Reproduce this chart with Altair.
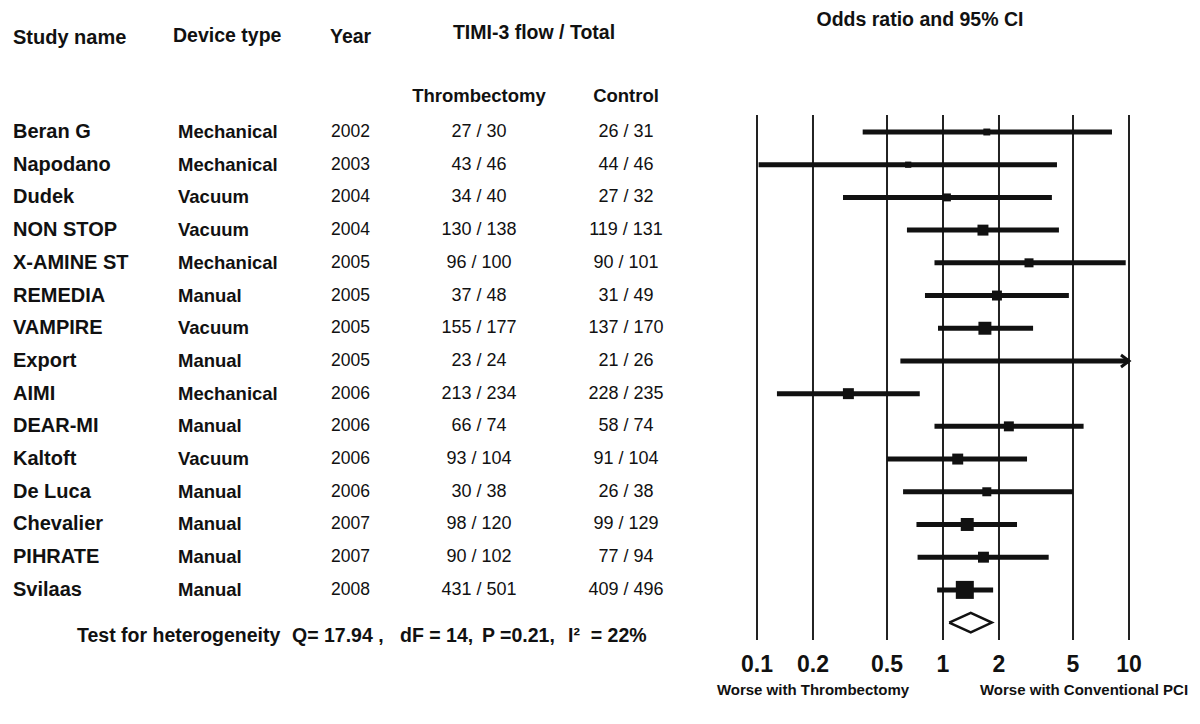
import altair as alt
import pandas as pd

# ---- data ----
studies = ["Beran G", "Napodano", "Dudek", "NON STOP", "X-AMINE ST", "REMEDIA", "VAMPIRE",
           "Export", "AIMI", "DEAR-MI", "Kaltoft", "De Luca", "Chevalier", "PIHRATE", "Svilaas"]
devices = ["Mechanical", "Mechanical", "Vacuum", "Vacuum", "Mechanical", "Manual", "Vacuum",
           "Manual", "Mechanical", "Manual", "Vacuum", "Manual", "Manual", "Manual", "Manual"]
years = [2002, 2003, 2004, 2004, 2005, 2005, 2005, 2005, 2006, 2006, 2006, 2006, 2007, 2007, 2008]
thromb_events = [27, 43, 34, 130, 96, 37, 155, 23, 213, 66, 93, 30, 98, 90, 431]
thromb_total = [30, 46, 40, 138, 100, 48, 177, 24, 234, 74, 104, 38, 120, 102, 501]
control_events = [26, 44, 27, 119, 90, 31, 137, 21, 228, 58, 91, 26, 99, 77, 409]
control_total = [31, 46, 32, 131, 101, 49, 170, 26, 235, 74, 104, 38, 129, 94, 496]
odds_ratio = [1.72, 0.65, 1.05, 1.64, 2.9, 1.95, 1.68, 5.5, 0.31, 2.26, 1.2, 1.72, 1.35, 1.65, 1.31]
ci_low = [0.37, 0.102, 0.29, 0.64, 0.9, 0.8, 0.94, 0.59, 0.128, 0.9, 0.5, 0.61, 0.72, 0.73, 0.93]
ci_high = [8.1, 4.1, 3.85, 4.2, 9.6, 4.75, 3.05, 50.0, 0.75, 5.7, 2.83, 5.0, 2.5, 3.7, 1.86]
weights = [1.6, 1.3, 2.1, 4.0, 2.7, 3.3, 5.6, 0.3, 4.0, 3.3, 4.0, 2.7, 5.6, 4.0, 10.8]

pooled_or = 1.41
pooled_low = 1.08
pooled_high = 1.83

axis_ticks = [0.1, 0.2, 0.5, 1, 2, 5, 10]
axis_labels = ["0.1", "0.2", "0.5", "1", "2", "5", "10"]

het_parts = ["Test for heterogeneity", "Q= 17.94 ,", "dF = 14,", "P =0.21,", "I\u00b2\u00a0 = 22%"]

FONT = "Liberation Sans, Arial, sans-serif"
INK = "#111111"

rows = list(range(len(studies)))
df = pd.DataFrame({
    "row": rows,
    "study": studies,
    "device": devices,
    "year": [str(y) for y in years],
    "thromb": [f"{e} / {t}" for e, t in zip(thromb_events, thromb_total)],
    "control": [f"{e} / {t}" for e, t in zip(control_events, control_total)],
    "or": odds_ratio,
    "lo": ci_low,
    "hi": ci_high,
    "w": weights,
})
pool_row = len(studies)
diamond = pd.DataFrame({
    "x": [pooled_low, pooled_or, pooled_high, pooled_or, pooled_low],
    "y": [pool_row, pool_row - 0.3, pool_row, pool_row + 0.3, pool_row],
    "o": [0, 1, 2, 3, 4],
})
ticks = pd.DataFrame({"t": axis_ticks, "lab": axis_labels})

xs = alt.Scale(type="log", domain=[0.1, 10], range=[749, 1121], clamp=False)
ys = alt.Scale(domain=[0, pool_row], range=[124, 614.6], nice=False, zero=False)

X = lambda f: alt.X(f, type="quantitative", scale=xs, axis=None)
Y = lambda f: alt.Y(f, type="quantitative", scale=ys, axis=None)

base = alt.Chart(df)

# vertical reference lines
vlines = alt.Chart(ticks).mark_rule(color="#222222", strokeWidth=2).encode(
    x=X("t"), y=alt.value(107), y2=alt.value(632))

# CI lines (clipped at the axis end)
ci = base.transform_calculate(hic="min(datum.hi, 10)").mark_rule(
    color=INK, strokeWidth=5).encode(x=X("lo"), x2="hic:Q", y=Y("row"))

arrow = base.transform_filter("datum.hi > 10").transform_calculate(tip="10").mark_point(
    shape="M-2,-1.5L0,0L-2,1.5", filled=False, color=INK, strokeWidth=3, size=64, opacity=1
).encode(x=X("tip"), y=Y("row"))

squares = base.mark_square(color=INK, opacity=1).encode(
    x=X("or"), y=Y("row"),
    size=alt.Size("w:Q", scale=alt.Scale(domain=[0, 10.8], range=[0, 324]), legend=None))

dia = alt.Chart(diamond).mark_line(color=INK, strokeWidth=2.5).encode(
    x=X("x"), y=Y("y"), order="o:Q")

tick_labels = alt.Chart(ticks).mark_text(
    font=FONT, fontSize=23, fontWeight="bold", color=INK, baseline="middle").encode(
    x=X("t"), y=alt.value(657), text="lab:N")

# table columns
def col(field, x, size, weight, align):
    return base.mark_text(font=FONT, fontSize=size, fontWeight=weight, color=INK,
                          align=align, baseline="middle").encode(
        x=alt.value(x), y=Y("row"), text=f"{field}:N")

c_study = col("study", 5, 20, "bold", "left")
c_dev = col("device", 170, 18.5, "bold", "left")
c_year = col("year", 323, 17.5, "normal", "left")
c_thr = col("thromb", 471, 18, "normal", "center")
c_con = col("control", 618, 18, "normal", "center")

def label(text, x, y, size, weight="bold", align="center"):
    return alt.Chart(df).transform_filter("datum.row == 0").mark_text(
        text=text, font=FONT, fontSize=size, fontWeight=weight, color=INK,
        align=align, baseline="middle").encode(x=alt.value(x), y=alt.value(y))

het_x = [69, 284, 392, 474, 560]

headers = [
    label("Study name", 5, 30, 20, align="left"),
    label("Device type", 165, 28, 19.5, align="left"),
    label("Year", 322, 29, 19.5, align="left"),
    label("TIMI-3 flow / Total", 526, 25, 19.5),
    label("Thrombectomy", 471, 88, 18.5),
    label("Control", 618, 88, 18.5),
    label("Odds ratio and 95% CI", 912, 12, 19.5),
    label("Worse with Thrombectomy", 805, 682, 15),
    label("Worse with Conventional PCI", 1076, 682, 15),
] + [label(t, hx, 628, 19.5, align="left") for t, hx in zip(het_parts, het_x)]

chart = alt.layer(
    vlines, ci, arrow, squares, dia, tick_labels,
    c_study, c_dev, c_year, c_thr, c_con, *headers
).properties(
    width=1184, height=708, padding=0, autosize=alt.AutoSizeParams(type="none"),
    background="white"
).configure_view(stroke=None)

chart.save("out.html", embed_options={"renderer": "svg", "actions": False})
